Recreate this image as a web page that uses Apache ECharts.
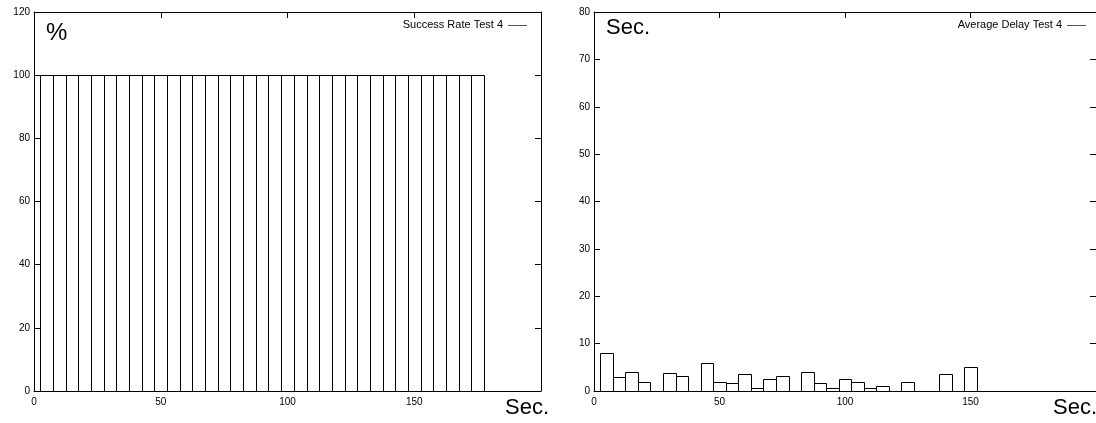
<!DOCTYPE html>
<html>
<head>
<meta charset="utf-8">
<script src="https://cdn.jsdelivr.net/npm/echarts@6/dist/echarts.min.js"></script>
<style>
html,body{margin:0;padding:0;background:#fff;}
#chart{width:1096px;height:423px;}
</style>
</head>
<body>
<div id="chart"></div>
<script>
// ---- data ----
const binCenters = [5,10,15,20,25,30,35,40,45,50,55,60,65,70,75,80,85,90,95,100,105,110,115,120,125,130,135,140,145,150,155,160,165,170,175];
const successRate = [100,100,100,100,100,100,100,100,100,100,100,100,100,100,100,100,100,100,100,100,100,100,100,100,100,100,100,100,100,100,100,100,100,100,100];
const averageDelay = [8.0,3.0,4.05,2.0,0,3.85,3.15,0,6.0,1.8,1.75,3.5,0.55,2.6,3.15,0,4.0,1.6,0.55,2.5,2.0,0.55,1.1,0,1.8,0,0,3.5,0,5.0,0,0,0,0,0];
const boxWidth = 5;
const xTicks = [0,50,100,150,200];
const leftYTicks = [0,20,40,60,80,100,120];
const rightYTicks = [0,10,20,30,40,50,60,70,80];
const leftLegend = 'Success Rate Test 4';
const rightLegend = 'Average Delay Test 4';

// ---- chart ----
const FONT = 'Liberation Sans';
const chart = echarts.init(document.getElementById('chart'), null, {renderer:'canvas'});

function boxRender(params, api) {
  const x = api.value(0), y = api.value(1);
  const p0 = api.coord([x - boxWidth/2, y]);
  const p1 = api.coord([x + boxWidth/2, 0]);
  const x0 = Math.round(p0[0]) + 0.5, x1 = Math.round(p1[0]) + 0.5;
  const y0 = Math.round(p0[1]) + 0.5, y1 = Math.round(p1[1]) + 0.5;
  return {
    type: 'rect',
    shape: {x: x0, y: y0, width: x1 - x0, height: y1 - y0},
    style: {fill: '#fff', stroke: '#000', lineWidth: 1}
  };
}

const axisLine = {show:true, onZero:false, lineStyle:{color:'#000', width:1}};
const tick = {show:true, inside:true, length:6, lineStyle:{color:'#000', width:1}};
const label = {show:true, color:'#000', fontFamily:FONT, fontSize:10};

function xAx(grid, pos, showLabel) {
  return {type:'value', gridIndex:grid, position:pos, min:xTicks[0], max:xTicks[xTicks.length-1], interval:50,
    axisLine, axisTick:tick, splitLine:{show:false},
    axisLabel: showLabel ? Object.assign({margin:6, showMaxLabel:false}, label) : {show:false}};
}
function yAx(grid, pos, ticks, showLabel) {
  return {type:'value', gridIndex:grid, position:pos, min:ticks[0], max:ticks[ticks.length-1], interval:ticks[1]-ticks[0],
    axisLine, axisTick:tick, splitLine:{show:false},
    axisLabel: showLabel ? Object.assign({margin:4}, label) : {show:false}};
}

const option = {
  backgroundColor:'#fff',
  animation:false,
  grid:[
    {left:34, top:12, width:507, height:379},
    {left:594, top:12, width:504, height:379}
  ],
  xAxis:[ xAx(0,'bottom',true), xAx(0,'top',false), xAx(1,'bottom',true), xAx(1,'top',false) ],
  yAxis:[ yAx(0,'left',leftYTicks,true), yAx(0,'right',leftYTicks,false), yAx(1,'left',rightYTicks,true), yAx(1,'right',rightYTicks,false) ],
  series:[
    {type:'custom', name:leftLegend, xAxisIndex:0, yAxisIndex:0, renderItem:boxRender,
      data: binCenters.map((c,i)=>[c, successRate[i]]), clip:false},
    {type:'custom', name:rightLegend, xAxisIndex:2, yAxisIndex:2, renderItem:boxRender,
      data: binCenters.map((c,i)=>[c, averageDelay[i]]), clip:false}
  ],
  graphic:[
    {type:'text', left:46, top:21, style:{text:'%', font:'24px "Liberation Sans"', fill:'#000'}},
    {type:'text', left:505, top:397, style:{text:'Sec.', font:'22px "Liberation Sans"', fill:'#000'}},
    {type:'text', left:606, top:17, style:{text:'Sec.', font:'22px "Liberation Sans"', fill:'#000'}},
    {type:'text', left:1053, top:397, style:{text:'Sec.', font:'22px "Liberation Sans"', fill:'#000'}},
    {type:'text', x:503, y:25, style:{text:leftLegend, font:'11px "Liberation Sans"', fill:'#000', align:'right', verticalAlign:'middle'}},
    {type:'line', shape:{x1:508, y1:25.5, x2:527, y2:25.5}, style:{stroke:'#555', lineWidth:1}},
    {type:'text', x:1062, y:25, style:{text:rightLegend, font:'11px "Liberation Sans"', fill:'#000', align:'right', verticalAlign:'middle'}},
    {type:'line', shape:{x1:1067, y1:25.5, x2:1086, y2:25.5}, style:{stroke:'#555', lineWidth:1}}
  ]
};
chart.setOption(option);
</script>
</body>
</html>
